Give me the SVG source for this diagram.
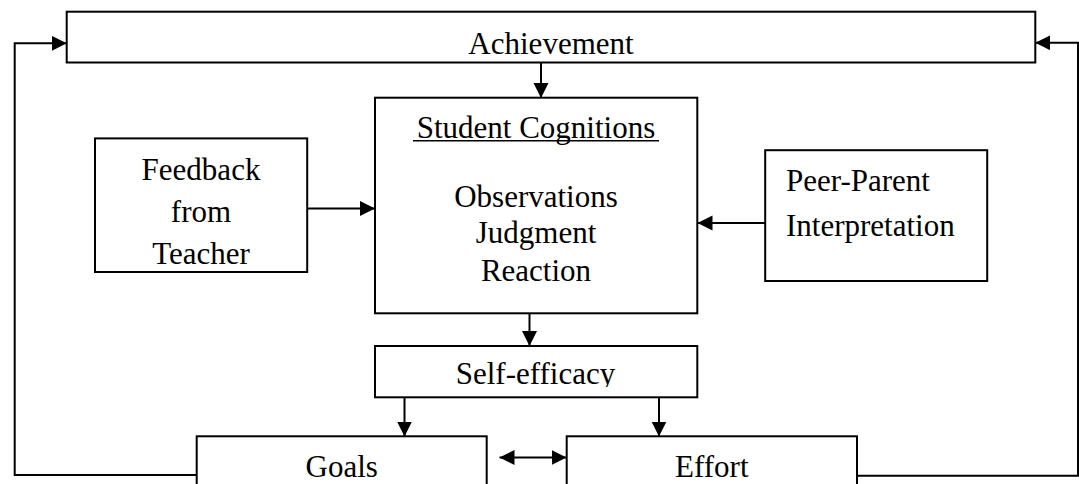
<svg xmlns="http://www.w3.org/2000/svg" width="1079" height="484" viewBox="0 0 1079 484">
<style>
.box{fill:#fff;stroke:#000;stroke-width:2}
.t{font-family:"Liberation Serif","Times New Roman",serif;font-size:31px;fill:#000}
.c{text-anchor:middle}
.ln{fill:none;stroke:#000;stroke-width:2}
</style>
<defs>
<marker id="ah" markerUnits="userSpaceOnUse" markerWidth="16" markerHeight="16" refX="15" refY="7.5" orient="auto-start-reverse">
<path d="M0,0 L15,7.5 L0,15 z" fill="#000"/>
</marker>
<clipPath id="seclip"><rect x="375" y="346" width="322" height="41"/></clipPath>
</defs>
<rect width="1079" height="484" fill="#fff"/>
<g id="connectors">
<line class="ln" x1="541" y1="63" x2="541" y2="98" marker-end="url(#ah)"/>
<line class="ln" x1="307" y1="208.5" x2="375" y2="208.5" marker-end="url(#ah)"/>
<line class="ln" x1="765" y1="223" x2="697.5" y2="223" marker-end="url(#ah)"/>
<line class="ln" x1="529.5" y1="313.5" x2="529.5" y2="346" marker-end="url(#ah)"/>
<line class="ln" x1="404.5" y1="397.5" x2="404.5" y2="436.5" marker-end="url(#ah)"/>
<line class="ln" x1="659" y1="397.5" x2="659" y2="436.5" marker-end="url(#ah)"/>
<line class="ln" x1="499.5" y1="457.5" x2="566.5" y2="457.5" marker-start="url(#ah)" marker-end="url(#ah)"/>
<polyline class="ln" points="197,475 14.7,475 14.7,43.3 66.7,43.3" marker-end="url(#ah)"/>
<polyline class="ln" points="857,475.7 1078,475.7 1078,42.8 1035.3,42.8" marker-end="url(#ah)"/>
</g>
<g id="achievement">
<rect class="box" x="66.7" y="11.7" width="968.6" height="50.8"/>
<text class="t c" x="551" y="53.5">Achievement</text>
</g>
<g id="student-cognitions">
<rect class="box" x="375" y="97.7" width="322.3" height="215.6"/>
<text class="t c" x="536" y="138">Student Cognitions</text>
<line x1="413" y1="140.8" x2="659" y2="140.8" stroke="#000" stroke-width="1.6"/>
<text class="t c" x="536" y="206.7">Observations</text>
<text class="t c" x="536" y="243.3">Judgment</text>
<text class="t c" x="536" y="280.7">Reaction</text>
</g>
<g id="feedback">
<rect class="box" x="95" y="138.4" width="212.2" height="133.6"/>
<text class="t c" x="201" y="180">Feedback</text>
<text class="t c" x="201" y="222">from</text>
<text class="t c" x="201" y="264">Teacher</text>
</g>
<g id="peer-parent">
<rect class="box" x="765.2" y="150.2" width="222" height="130.8"/>
<text class="t" x="786" y="191">Peer-Parent</text>
<text class="t" x="786" y="235.5">Interpretation</text>
</g>
<g id="self-efficacy">
<rect class="box" x="375" y="346" width="322.3" height="51.3"/>
<text class="t c" x="535.5" y="384" clip-path="url(#seclip)">Self-efficacy</text>
</g>
<g id="goals">
<rect class="box" x="196.7" y="436.3" width="290" height="70"/>
<text class="t c" x="341.7" y="477">Goals</text>
</g>
<g id="effort">
<rect class="box" x="566.7" y="436.3" width="290.3" height="70"/>
<text class="t c" x="711.8" y="477">Effort</text>
</g>
</svg>
